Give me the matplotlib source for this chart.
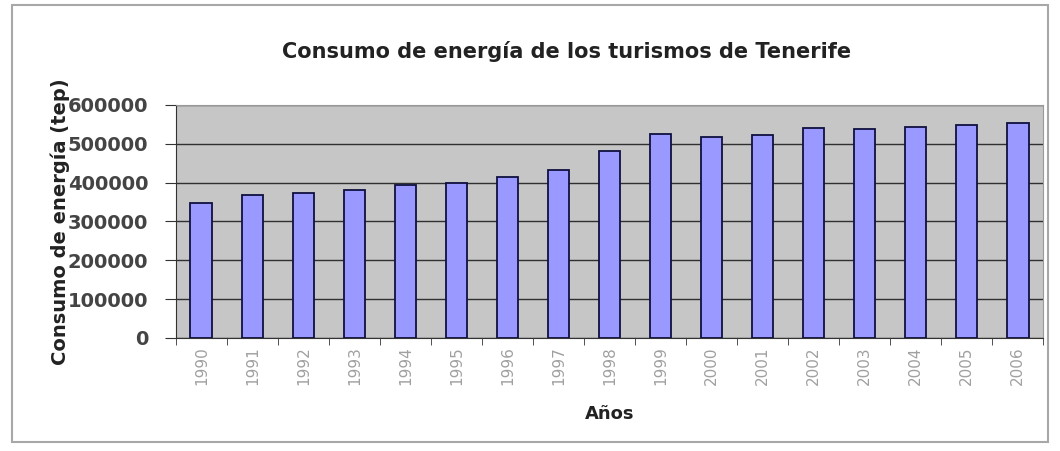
import numpy as np
import matplotlib.pyplot as plt
from matplotlib.patches import Rectangle

years = ['1990', '1991', '1992', '1993', '1994', '1995', '1996', '1997', '1998',
         '1999', '2000', '2001', '2002', '2003', '2004', '2005', '2006']
consumo = [348000, 368000, 372000, 381000, 394000, 398000, 415000, 431000, 481000,
           524000, 518000, 523000, 540000, 539000, 542000, 548000, 554000]
yticks = [0, 100000, 200000, 300000, 400000, 500000, 600000]

fig = plt.figure(figsize=(10.6, 4.51), dpi=100)
fig.patches.append(Rectangle((0.011, 0.02), 0.978, 0.968, transform=fig.transFigure,
                             fill=False, edgecolor='#a8a8a8', linewidth=1.5))

ax = fig.add_axes([0.166, 0.2506, 0.818, 0.517])
ax.set_facecolor('#c6c6c6')
x = np.arange(len(years))
ax.bar(x, consumo, width=0.43, color='#9999ff', edgecolor='#101040', linewidth=1.3, zorder=3)

ax.set_ylim(0, 600000)
ax.set_xlim(-0.5, len(years) - 0.5)
ax.set_yticks(yticks)
ax.set_yticklabels([str(v) for v in yticks], fontsize=14, fontweight='bold', color='#444444')
ax.yaxis.grid(True, color='#303030', linewidth=1, zorder=1)

ax.set_xticks(x)
ax.set_xticklabels(years, rotation=90, fontsize=11, color='#a0a0a0')
ax.set_xticks(np.arange(-0.5, len(years)), minor=True)
ax.tick_params(axis='x', which='major', length=0, pad=6)
ax.tick_params(axis='x', which='minor', length=5, color='#333333')
ax.tick_params(axis='y', length=8, color='#333333', pad=12)

for s in ['top', 'right']:
    ax.spines[s].set_color('#999999')
for s in ['left', 'bottom']:
    ax.spines[s].set_color('#333333')

ax.set_title('Consumo de energía de los turismos de Tenerife', fontsize=15,
             fontweight='bold', color='#222222', pad=34, x=0.451)
ax.set_xlabel('Años', fontsize=13, fontweight='bold', color='#222222', labelpad=14)
fig.text(0.057, 0.508, 'Consumo de energía (tep)', rotation=90, fontsize=14,
         fontweight='bold', color='#222222', ha='center', va='center')

fig.savefig('out.png', dpi=100)
